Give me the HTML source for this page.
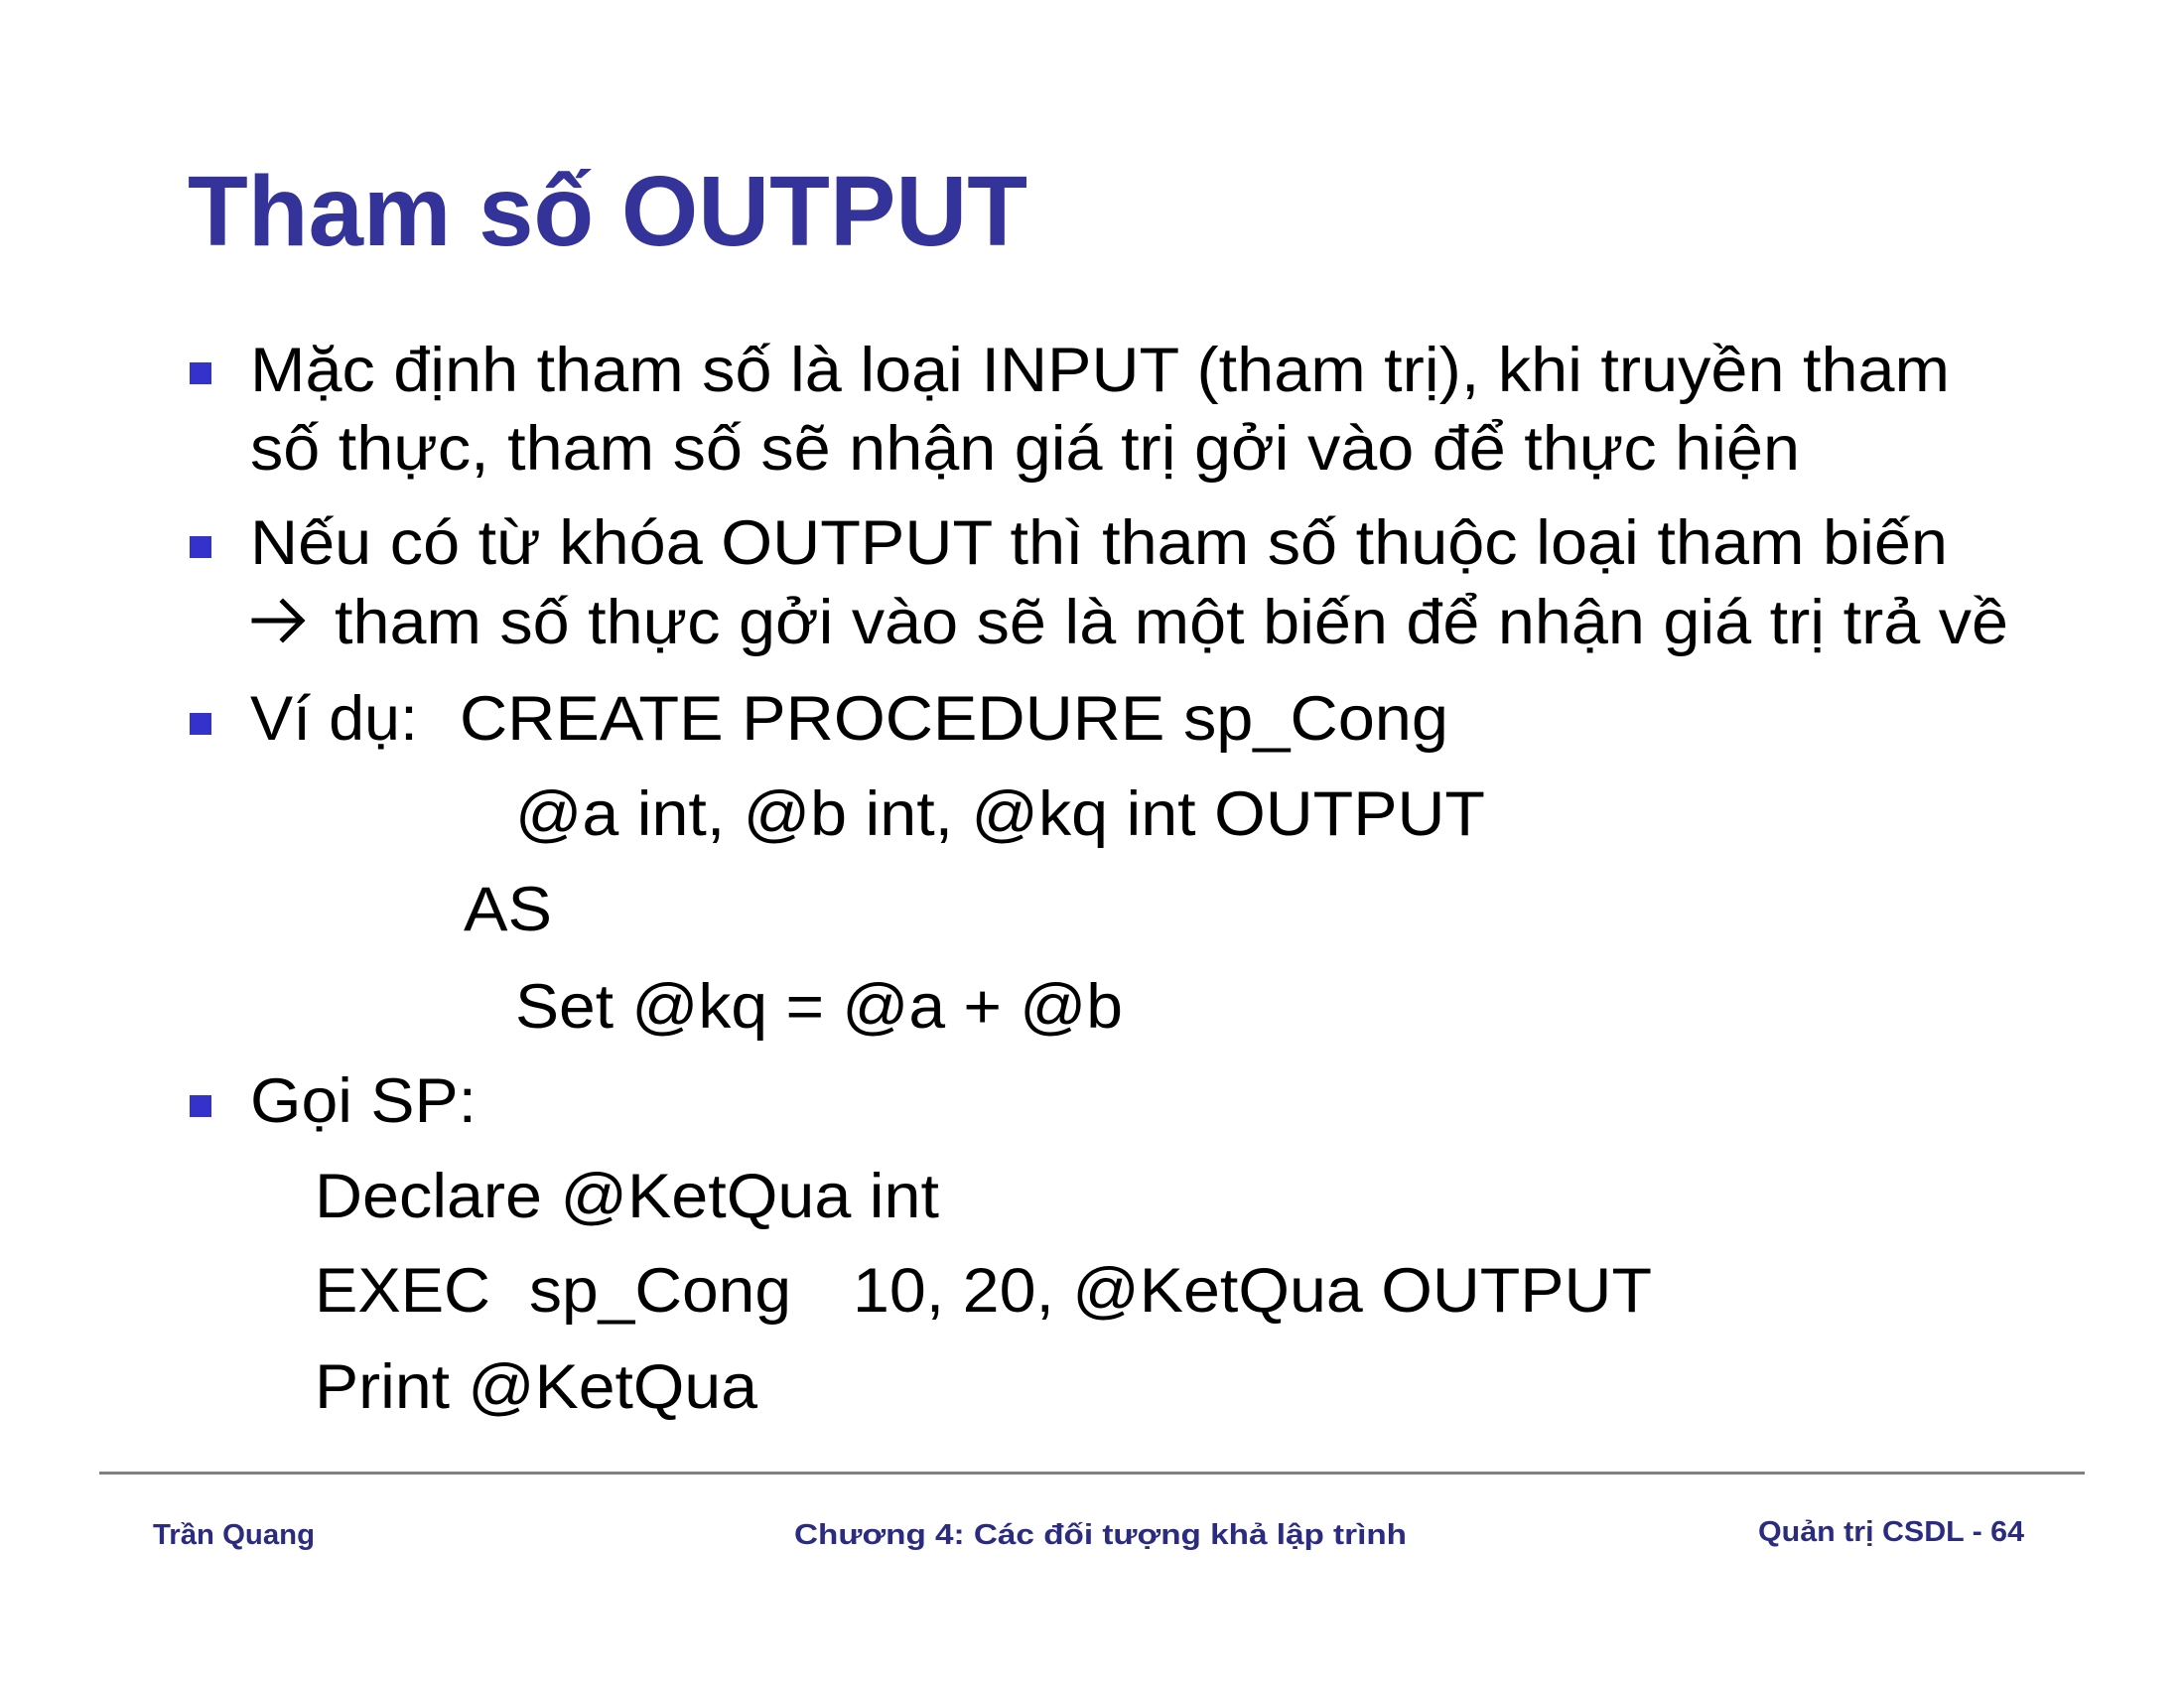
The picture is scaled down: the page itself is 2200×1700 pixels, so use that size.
<!DOCTYPE html>
<html><head><meta charset="utf-8"><style>
html,body{margin:0;padding:0;background:#fff;}
svg{display:block}
text{font-family:"Liberation Sans",Arial,sans-serif;}
</style></head><body>
<svg width="2200" height="1700" viewBox="0 0 2200 1700" xmlns="http://www.w3.org/2000/svg">
<rect width="2200" height="1700" fill="#fff"/>
<text x="189" y="247" font-size="100" font-weight="bold" fill="#333399" textLength="846" lengthAdjust="spacingAndGlyphs">Tham số OUTPUT</text>
<g fill="#3333cc">
<rect x="191" y="365" width="22" height="22"/>
<rect x="191" y="540" width="22" height="22"/>
<rect x="191" y="718" width="22" height="22"/>
<rect x="191" y="1103" width="22" height="22"/>
</g>
<g font-size="63" fill="#000">
<text x="252" y="394" textLength="1712" lengthAdjust="spacingAndGlyphs">Mặc định tham số là loại INPUT (tham trị), khi truyền tham</text>
<text x="252" y="473" textLength="1561" lengthAdjust="spacingAndGlyphs">số thực, tham số sẽ nhận giá trị gởi vào để thực hiện</text>
<text x="252" y="568" textLength="1710" lengthAdjust="spacingAndGlyphs">Nếu có từ khóa OUTPUT thì tham số thuộc loại tham biến</text>
<text x="337" y="648" textLength="1686" lengthAdjust="spacingAndGlyphs">tham số thực gởi vào sẽ là một biến để nhận giá trị trả về</text>
<text x="252" y="745" textLength="169" lengthAdjust="spacingAndGlyphs">Ví dụ:</text>
<text x="463" y="745" textLength="996" lengthAdjust="spacingAndGlyphs">CREATE PROCEDURE sp_Cong</text>
<text x="519" y="841" textLength="977" lengthAdjust="spacingAndGlyphs">@a int, @b int, @kq int OUTPUT</text>
<text x="467" y="937" textLength="89" lengthAdjust="spacingAndGlyphs">AS</text>
<text x="519" y="1035" textLength="612" lengthAdjust="spacingAndGlyphs">Set @kq = @a + @b</text>
<text x="252" y="1130" textLength="228" lengthAdjust="spacingAndGlyphs">Gọi SP:</text>
<text x="317" y="1226" textLength="629" lengthAdjust="spacingAndGlyphs">Declare @KetQua int</text>
<text x="317" y="1321" textLength="177" lengthAdjust="spacingAndGlyphs">EXEC</text>
<text x="533" y="1321" textLength="264" lengthAdjust="spacingAndGlyphs">sp_Cong</text>
<text x="859" y="1321" textLength="805" lengthAdjust="spacingAndGlyphs">10, 20, @KetQua OUTPUT</text>
<text x="317" y="1418" textLength="446" lengthAdjust="spacingAndGlyphs">Print @KetQua</text>
</g>
<g stroke="#000" stroke-width="5" fill="none" stroke-linecap="square">
<line x1="256" y1="625" x2="302" y2="625"/>
<polyline points="285,606 304,625 285,644"/>
</g>
<rect x="100" y="1482" width="2000" height="3" fill="#808080"/>
<g font-size="29" font-weight="bold" fill="#2b2b7f">
<text x="154" y="1555" textLength="163" lengthAdjust="spacingAndGlyphs">Trần Quang</text>
<text x="800" y="1555" textLength="617" lengthAdjust="spacingAndGlyphs">Chương 4: Các đối tượng khả lập trình</text>
<text x="1771" y="1552" textLength="268" lengthAdjust="spacingAndGlyphs">Quản trị CSDL - 64</text>
</g>
</svg>
</body></html>
